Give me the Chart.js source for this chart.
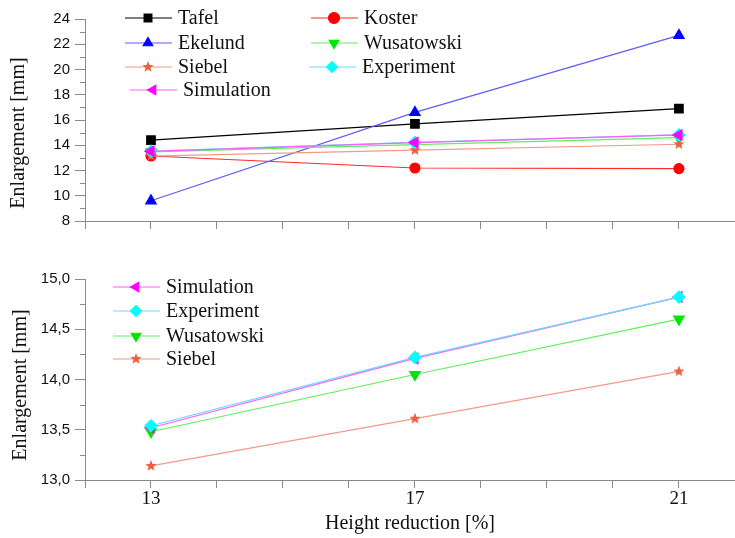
<!DOCTYPE html>
<html>
<head>
<meta charset="utf-8">
<script src="https://cdn.jsdelivr.net/npm/chart.js@4.4.1/dist/chart.umd.min.js"></script>
<style>
  body { margin: 0; background: #fff; }
  #wrap { position: relative; width: 735px; height: 538px; }
  #topCanvas { position: absolute; left: 0; top: 0; }
  #bottomCanvas { position: absolute; left: 0; top: 240px; }
</style>
</head>
<body>
<div id="wrap">
  <canvas id="topCanvas" width="735" height="240"></canvas>
  <canvas id="bottomCanvas" width="735" height="298"></canvas>
</div>
<script>
// Data
const heightReduction = [13, 17, 21];
const xTickValues = [12, 13, 14, 15, 16, 17, 18, 19, 20, 21];
const labeledX = [13, 17, 21];
const tafel = [14.4, 15.7, 16.9];
const koster = [13.15, 12.2, 12.15];
const ekelund = [9.6, 16.6, 22.7];
const wusatowski = [13.48, 14.05, 14.6];
const siebel = [13.14, 13.61, 14.08];
const experiment = [13.54, 14.22, 14.82];
const simulation = [13.52, 14.21, 14.82];

const topYTicks = [8, 10, 12, 14, 16, 18, 20, 22, 24];
const bottomYTicks = [13.0, 13.5, 14.0, 14.5, 15.0];

const axisColor = '#8a8a8a';
const serif = '"Liberation Serif", "Times New Roman", serif';
const sans = '"Liberation Sans", Arial, sans-serif';

// Filled five point star used for Siebel
function makeStar(color, r) {
    const c = document.createElement('canvas');
    const s = Math.ceil(r * 2 + 2);
    c.width = s; c.height = s;
    const g = c.getContext('2d');
    g.fillStyle = color;
    g.beginPath();
    for (let i = 0; i < 10; i++) {
        const rad = i % 2 === 0 ? r : r * 0.42;
        const a = -Math.PI / 2 + i * Math.PI / 5;
        const px = s / 2 + rad * Math.cos(a);
        const py = s / 2 + rad * Math.sin(a);
        if (i === 0) g.moveTo(px, py); else g.lineTo(px, py);
    }
    g.closePath();
    g.fill();
    return c;
}
const starImg = makeStar('#e8603c', 6);

function toPoints(values) {
    return heightReduction.map((h, i) => ({ x: h, y: values[i] }));
}

// Series style table
const styles = {
    Tafel:      { data: tafel,      line: '#000000', fill: '#000000', pointStyle: 'rect', rotation: 0, radius: 6 },
    Koster:     { data: koster,     line: '#ff2a2a', fill: '#ff0000', pointStyle: 'circle', rotation: 0, radius: 5 },
    Ekelund:    { data: ekelund,    line: '#5c5cff', fill: '#0000ff', pointStyle: 'triangle', rotation: 0, radius: 6 },
    Wusatowski: { data: wusatowski, line: '#5ef05e', fill: '#00e600', pointStyle: 'triangle', rotation: 180, radius: 6 },
    Siebel:     { data: siebel,     line: '#f49a88', fill: '#e8603c', pointStyle: starImg, rotation: 0, radius: 6 },
    Experiment: { data: experiment, line: '#6cd8ff', fill: '#00ffff', pointStyle: 'rectRot', rotation: 0, radius: 6 },
    Simulation: { data: simulation, line: '#ff5cff', fill: '#ff00ff', pointStyle: 'triangle', rotation: -90, radius: 6 }
};

function makeDataset(name, order) {
    const s = styles[name];
    return {
        label: name,
        data: toPoints(s.data),
        borderColor: s.line,
        backgroundColor: s.fill,
        pointBackgroundColor: s.fill,
        pointBorderColor: s.fill,
        pointStyle: s.pointStyle,
        rotation: s.rotation,
        pointRadius: s.radius,
        pointHoverRadius: s.radius,
        borderWidth: 1.2,
        tension: 0,
        order: order
    };
}

// Legend + minor ticks + y title
const extrasPlugin = {
    id: 'extras',
    afterDraw(chart, args, opts) {
        const ctx = chart.ctx;
        const y = chart.scales.y;
        const left = chart.chartArea.left;
        ctx.save();
        ctx.strokeStyle = axisColor;
        ctx.lineWidth = 1;
        opts.minorY.forEach(v => {
            const py = Math.round(y.getPixelForValue(v)) + 0.5;
            ctx.beginPath();
            ctx.moveTo(left - 5, py);
            ctx.lineTo(left, py);
            ctx.stroke();
        });

        // y axis title
        ctx.save();
        ctx.translate(opts.titleX, opts.titleY);
        ctx.rotate(-Math.PI / 2);
        ctx.fillStyle = '#111';
        ctx.font = '20px ' + serif;
        ctx.textAlign = 'center';
        ctx.textBaseline = 'middle';
        ctx.fillText('Enlargement [mm]', 0, 0);
        ctx.restore();

        // legend
        ctx.font = '20px ' + serif;
        ctx.textAlign = 'left';
        ctx.textBaseline = 'middle';
        opts.legend.forEach(item => {
            const s = styles[item.name];
            ctx.strokeStyle = s.line;
            ctx.lineWidth = 1.2;
            ctx.beginPath();
            ctx.moveTo(item.x, item.y);
            ctx.lineTo(item.x + 47, item.y);
            ctx.stroke();
            ctx.fillStyle = s.fill;
            ctx.strokeStyle = s.fill;
            Chart.helpers.drawPoint(ctx, {
                pointStyle: s.pointStyle,
                rotation: s.rotation,
                radius: 5.5,
                borderWidth: 1
            }, item.x + 23, item.y);
            ctx.fillStyle = '#111';
            ctx.fillText(item.name, item.x + 53, item.y + 1);
        });
        ctx.restore();
    }
};

function buildOptions(cfg) {
    return {
        responsive: false,
        animation: false,
        layout: { autoPadding: false, padding: { top: cfg.padTop, left: 0, right: 0, bottom: 0 } },
        plugins: {
            legend: { display: false },
            tooltip: { enabled: false },
            extras: cfg.extras
        },
        scales: {
            x: {
                type: 'linear',
                min: 12,
                max: 21.85,
                afterBuildTicks: scale => {
                    scale.ticks = xTickValues.map(v => ({ value: v }));
                },
                afterFit: scale => { scale.height = cfg.xHeight; },
                grid: { drawOnChartArea: false, drawTicks: true, tickLength: 8, color: axisColor },
                border: { display: true, color: axisColor, width: 1 },
                ticks: {
                    autoSkip: false,
                    maxRotation: 0,
                    padding: 0,
                    color: '#111',
                    font: { family: serif, size: 19 },
                    callback: v => (cfg.showX && labeledX.includes(v)) ? String(v) : ''
                },
                title: {
                    display: cfg.showX,
                    text: 'Height reduction [%]',
                    color: '#111',
                    font: { family: serif, size: 20 },
                    padding: { top: 0, bottom: 2 }
                }
            },
            y: {
                min: cfg.yTicks[0],
                max: cfg.yTicks[cfg.yTicks.length - 1],
                afterBuildTicks: scale => {
                    scale.ticks = cfg.yTicks.map(v => ({ value: v }));
                },
                afterFit: scale => { scale.width = 85; },
                grid: { drawOnChartArea: false, drawTicks: true, tickLength: 10, color: axisColor },
                border: { display: true, color: axisColor, width: 1 },
                ticks: {
                    padding: 5,
                    color: '#111',
                    font: { family: sans, size: 15 },
                    callback: cfg.yFormat
                }
            }
        }
    };
}

const topChart = new Chart(document.getElementById('topCanvas').getContext('2d'), {
    type: 'line',
    data: {
        datasets: [
            makeDataset('Tafel', 7),
            makeDataset('Koster', 6),
            makeDataset('Ekelund', 5),
            makeDataset('Wusatowski', 4),
            makeDataset('Siebel', 3),
            makeDataset('Experiment', 2),
            makeDataset('Simulation', 1)
        ]
    },
    options: buildOptions({
        padTop: 19,
        xHeight: 19,
        showX: false,
        yTicks: topYTicks,
        yFormat: v => String(v),
        extras: {
            minorY: [9, 11, 13, 15, 17, 19, 21, 23],
            titleX: 19,
            titleY: 133,
            legend: [
                { name: 'Tafel', x: 125, y: 18 },
                { name: 'Ekelund', x: 125, y: 43 },
                { name: 'Siebel', x: 125, y: 67 },
                { name: 'Simulation', x: 130, y: 90 },
                { name: 'Koster', x: 311, y: 18 },
                { name: 'Wusatowski', x: 311, y: 43 },
                { name: 'Experiment', x: 309, y: 67 }
            ]
        }
    }),
    plugins: [extrasPlugin]
});

const bottomChart = new Chart(document.getElementById('bottomCanvas').getContext('2d'), {
    type: 'line',
    data: {
        datasets: [
            makeDataset('Simulation', 2),
            makeDataset('Experiment', 1),
            makeDataset('Wusatowski', 3),
            makeDataset('Siebel', 4)
        ]
    },
    options: buildOptions({
        padTop: 39,
        xHeight: 58,
        showX: true,
        yTicks: bottomYTicks,
        yFormat: v => v.toFixed(1).replace('.', ','),
        extras: {
            minorY: [13.25, 13.75, 14.25, 14.75],
            titleX: 21,
            titleY: 145,
            legend: [
                { name: 'Simulation', x: 113, y: 47 },
                { name: 'Experiment', x: 113, y: 71 },
                { name: 'Wusatowski', x: 113, y: 96 },
                { name: 'Siebel', x: 113, y: 119 }
            ]
        }
    }),
    plugins: [extrasPlugin]
});
</script>
</body>
</html>
